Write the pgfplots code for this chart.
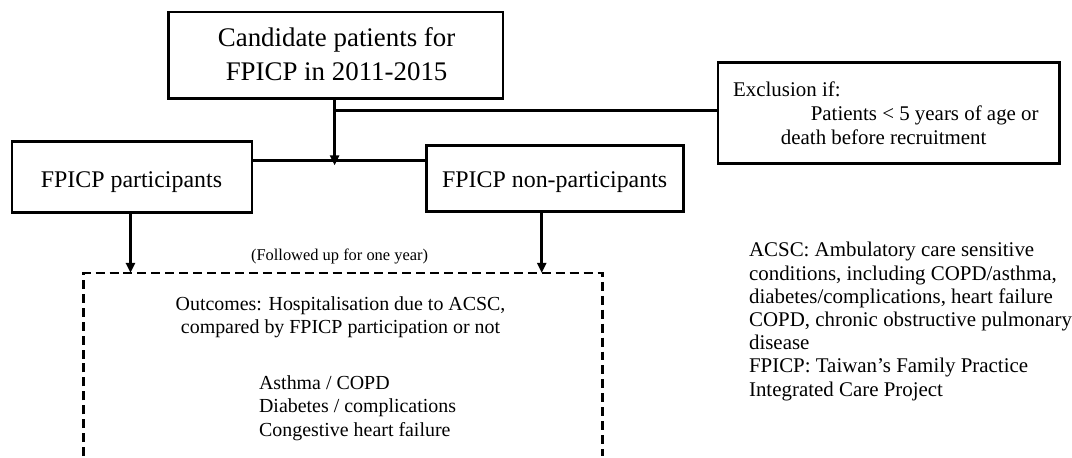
\documentclass[border=0pt]{standalone}
\usepackage{fontspec}
\setmainfont{Liberation Serif}
\usepackage{pgfplots}
\pgfplotsset{compat=1.18}
\usetikzlibrary{arrows.meta}
\begin{document}
\begin{tikzpicture}
\begin{axis}[scale only axis, width=1072pt, height=458pt,
  xmin=0, xmax=1072, ymin=0, ymax=458, y dir=reverse,
  hide axis, clip=false]
\addplot[draw=none, no markers] coordinates {(0,0) (1072,458)};
% boxes
\draw[line width=2.8pt, line join=miter] (169,12) rectangle (505,99);
\draw[line width=2.8pt, line join=miter] (721,63) rectangle (1064,164);
\draw[line width=2.8pt, line join=miter] (12,142) rectangle (253,213);
\draw[line width=2.8pt, line join=miter] (428,146) rectangle (686,212);
% connectors
\draw[line width=2.5pt, -{Triangle[length=10pt,width=9pt]}] (336,99) -- (336,166);
\draw[line width=2.5pt] (336,111) -- (721,111);
\draw[line width=2.5pt] (253,161) -- (428,161);
\draw[line width=2.5pt, -{Triangle[length=10pt,width=9pt]}] (131,213) -- (131,274);
\draw[line width=2.5pt, -{Triangle[length=10pt,width=9pt]}] (544,212) -- (544,274);
% dashed box
\draw[line width=2.5pt, dash pattern=on 9pt off 5pt] (84,458) -- (84,274) -- (605,274) -- (605,458);
% texts
\begin{scope}[every node/.style={inner sep=0pt}]
\node[anchor=base, font=\fontsize{27}{34}\selectfont] at (338,47) {Candidate patients for};
\node[anchor=base, font=\fontsize{27}{34}\selectfont] at (338,81) {FPICP in 2011-2015};
\node[anchor=base, font=\fontsize{24}{29}\selectfont] at (132,188) {FPICP participants};
\node[anchor=base, font=\fontsize{24}{29}\selectfont] at (557,188) {FPICP non-participants};
\node[anchor=base west, font=\fontsize{21}{25}\selectfont] at (736,97) {Exclusion if:};
\node[anchor=base west, font=\fontsize{21}{25}\selectfont] at (814,121) {Patients < 5 years of age or};
\node[anchor=base west, font=\fontsize{21}{25}\selectfont] at (784,145) {death before recruitment};
\node[anchor=base, font=\fontsize{16.5}{20}\selectfont] at (341,262) {(Followed up for one year)};
\node[anchor=base, font=\fontsize{20}{24}\selectfont] at (342,312) {Outcomes: Hospitalisation due to ACSC,};
\node[anchor=base, font=\fontsize{20}{24}\selectfont] at (342,335) {compared by FPICP participation or not};
\node[anchor=base west, font=\fontsize{20}{24}\selectfont] at (260,391) {Asthma / COPD};
\node[anchor=base west, font=\fontsize{20}{24}\selectfont] at (260,414) {Diabetes / complications};
\node[anchor=base west, font=\fontsize{20}{24}\selectfont] at (260,438) {Congestive heart failure};
\node[anchor=base west, font=\fontsize{21}{25}\selectfont] at (752,258) {ACSC: Ambulatory care sensitive};
\node[anchor=base west, font=\fontsize{21}{25}\selectfont] at (752,281.3) {conditions, including COPD/asthma,};
\node[anchor=base west, font=\fontsize{21}{25}\selectfont] at (752,304.6) {diabetes/complications, heart failure};
\node[anchor=base west, font=\fontsize{21}{25}\selectfont] at (752,327.9) {COPD, chronic obstructive pulmonary};
\node[anchor=base west, font=\fontsize{21}{25}\selectfont] at (752,351.2) {disease};
\node[anchor=base west, font=\fontsize{21}{25}\selectfont] at (752,374.5) {FPICP: Taiwan’s Family Practice};
\node[anchor=base west, font=\fontsize{21}{25}\selectfont] at (752,397.8) {Integrated Care Project};
\end{scope}
\end{axis}
\end{tikzpicture}
\end{document}
